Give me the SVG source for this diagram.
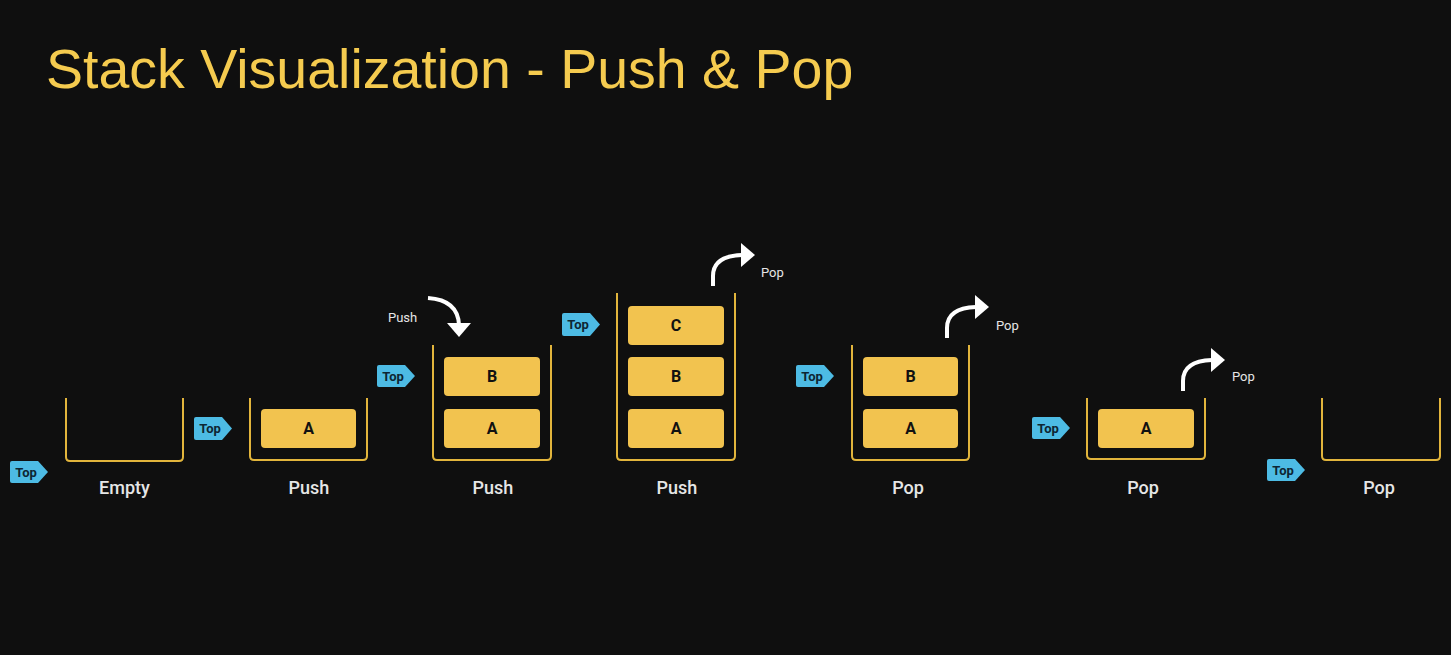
<svg xmlns="http://www.w3.org/2000/svg" width="1451" height="655" viewBox="0 0 1451 655">
<style>
.bg{fill:#0f0f0f}
.title{font-family:"Liberation Sans",Arial,sans-serif;font-size:55.5px;fill:#f5cb4f}
.cont{fill:none;stroke:#e2b53c;stroke-width:2}
.blk{fill:#f2c34f}
.bt{font-family:Roboto,"Liberation Sans",sans-serif;font-size:16px;font-weight:bold;fill:#111;text-anchor:middle}
.lbl{font-family:Roboto,"Liberation Sans",sans-serif;font-size:18px;font-weight:500;fill:#e6e6e6;text-anchor:middle}
.tag{fill:#4dbbe4}
.tt{font-family:Roboto,"Liberation Sans",sans-serif;font-size:13px;font-weight:bold;fill:#0d2633;text-anchor:middle}
.arr{fill:none;stroke:#fff;stroke-width:4}
.ah{fill:#fff}
.al{font-family:Roboto,"Liberation Sans",sans-serif;font-size:13px;fill:#e6e6e6}
</style>
<rect class="bg" x="0" y="0" width="1451" height="655"/>
<text class="title" x="46" y="88">Stack Visualization - Push &amp; Pop</text>

<g id="connectors">
  <path class="arr" d="M428,298 Q458,300 459,325"/>
  <polygon class="ah" points="447,323 471,323 459,337"/>
  <path class="arr" d="M713,286 L713,276 Q713,256 742,255"/>
  <polygon class="ah" points="741,243 741,267 755,255"/>
  <path class="arr" d="M947,338 L947,328 Q947,308 976,307"/>
  <polygon class="ah" points="975,295 975,319 989,307"/>
  <path class="arr" d="M1183,391 L1183,381 Q1183,361 1212,360"/>
  <polygon class="ah" points="1211,348 1211,372 1225,360"/>
</g>

<g id="stack1">
  <path class="cont" d="M66,398 V457 Q66,461 70,461 H179 Q183,461 183,457 V398"/>
  <text class="lbl" x="124.5" y="494">Empty</text>
  <path class="tag" d="M10,463 Q10,461 12,461 H38 L48,472 L38,483 H12 Q10,483 10,481 Z"/>
  <text class="tt" x="26" y="477">Top</text>
</g>

<g id="stack2">
  <path class="cont" d="M250,398 V456 Q250,460 254,460 H363 Q367,460 367,456 V398"/>
  <rect class="blk" x="261" y="409" width="95" height="39" rx="4"/>
  <text class="bt" x="308.5" y="434">A</text>
  <text class="lbl" x="309" y="494">Push</text>
  <path class="tag" d="M194,419 Q194,417 196,417 H222 L232,428.5 L222,440 H196 Q194,440 194,438 Z"/>
  <text class="tt" x="210" y="433">Top</text>
</g>

<g id="stack3">
  <path class="cont" d="M433,345 V456 Q433,460 437,460 H547 Q551,460 551,456 V345"/>
  <rect class="blk" x="444" y="357" width="96" height="39" rx="4"/>
  <text class="bt" x="492" y="382">B</text>
  <rect class="blk" x="444" y="409" width="96" height="39" rx="4"/>
  <text class="bt" x="492" y="434">A</text>
  <text class="lbl" x="493" y="494">Push</text>
  <path class="tag" d="M377,367 Q377,365 379,365 H405 L415,376 L405,387 H379 Q377,387 377,385 Z"/>
  <text class="tt" x="393" y="381">Top</text>
  <text class="al" x="388" y="322">Push</text>
</g>

<g id="stack4">
  <path class="cont" d="M617,293 V456 Q617,460 621,460 H731 Q735,460 735,456 V293"/>
  <rect class="blk" x="628" y="306" width="96" height="39" rx="4"/>
  <text class="bt" x="676" y="331">C</text>
  <rect class="blk" x="628" y="357" width="96" height="39" rx="4"/>
  <text class="bt" x="676" y="382">B</text>
  <rect class="blk" x="628" y="409" width="96" height="39" rx="4"/>
  <text class="bt" x="676" y="434">A</text>
  <text class="lbl" x="677" y="494">Push</text>
  <path class="tag" d="M562,315 Q562,313 564,313 H590 L600,324.5 L590,336 H564 Q562,336 562,334 Z"/>
  <text class="tt" x="578" y="329">Top</text>
  <text class="al" x="761" y="277">Pop</text>
</g>

<g id="stack5">
  <path class="cont" d="M852,345 V456 Q852,460 856,460 H965 Q969,460 969,456 V345"/>
  <rect class="blk" x="863" y="357" width="95" height="39" rx="4"/>
  <text class="bt" x="910.5" y="382">B</text>
  <rect class="blk" x="863" y="409" width="95" height="39" rx="4"/>
  <text class="bt" x="910.5" y="434">A</text>
  <text class="lbl" x="908" y="494">Pop</text>
  <path class="tag" d="M796,367 Q796,365 798,365 H824 L834,376 L824,387 H798 Q796,387 796,385 Z"/>
  <text class="tt" x="812" y="381">Top</text>
  <text class="al" x="996" y="330">Pop</text>
</g>

<g id="stack6">
  <path class="cont" d="M1087,398 V455 Q1087,459 1091,459 H1201 Q1205,459 1205,455 V398"/>
  <rect class="blk" x="1098" y="409" width="96" height="39" rx="4"/>
  <text class="bt" x="1146" y="434">A</text>
  <text class="lbl" x="1143" y="494">Pop</text>
  <path class="tag" d="M1032,419 Q1032,417 1034,417 H1060 L1070,428 L1060,439 H1034 Q1032,439 1032,437 Z"/>
  <text class="tt" x="1048" y="433">Top</text>
  <text class="al" x="1232" y="381">Pop</text>
</g>

<g id="stack7">
  <path class="cont" d="M1322,398 V456 Q1322,460 1326,460 H1436 Q1440,460 1440,456 V398"/>
  <text class="lbl" x="1379" y="494">Pop</text>
  <path class="tag" d="M1267,461 Q1267,459 1269,459 H1295 L1305,470 L1295,481 H1269 Q1267,481 1267,479 Z"/>
  <text class="tt" x="1283" y="475">Top</text>
</g>
</svg>
